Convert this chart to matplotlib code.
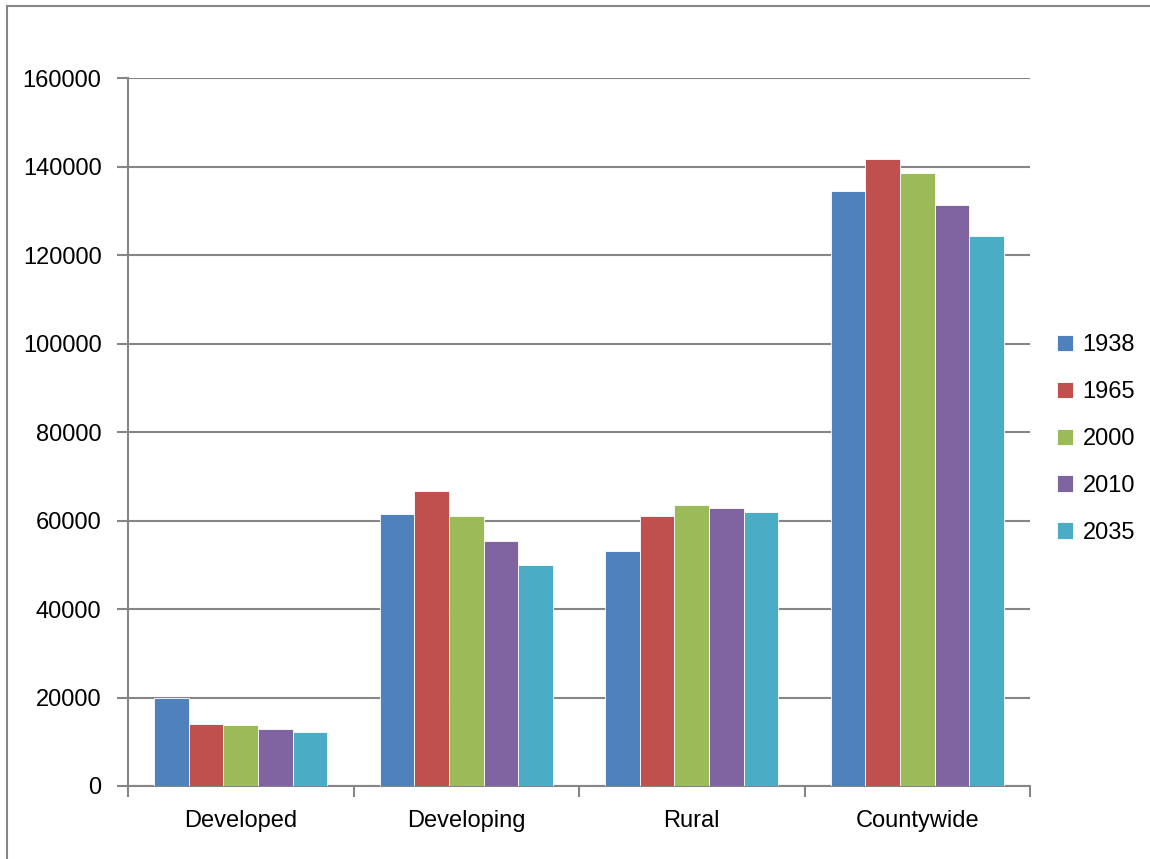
"""Population by area type, grouped bars per year."""

import matplotlib

matplotlib.use("Agg")
import matplotlib.pyplot as plt
import numpy as np
from matplotlib.lines import Line2D

categories = ["Developed", "Developing", "Rural", "Countywide"]
years = ["1938", "1965", "2000", "2010", "2035"]
values = {
    "1938": [20000, 61400, 53100, 134400],
    "1965": [14000, 66700, 61100, 141700],
    "2000": [13700, 61100, 63600, 138500],
    "2010": [12800, 55400, 62800, 131300],
    "2035": [12100, 49900, 61900, 124200],
}
colors = ["#4F81BD", "#C0504D", "#9BBB59", "#8064A2", "#4BACC6"]
y_ticks = [0, 20000, 40000, 60000, 80000, 100000, 120000, 140000, 160000]

plt.rcParams.update({"font.family": "Liberation Sans", "font.size": 17})

fig = plt.figure(figsize=(11.5, 8.59), dpi=100)
ax = fig.add_axes([128 / 1150, 73 / 859, 902 / 1150, 708 / 859])

grid_col = "#868686"
x = np.arange(len(categories))
bar_w = 0.1534
for i, year in enumerate(years):
    offset = (i - 2) * bar_w
    ax.bar(x + offset, values[year], width=bar_w, color=colors[i],
           edgecolor="white", linewidth=0.6, label=year, zorder=3)

ax.set_xlim(-0.5, len(categories) - 0.5)
ax.set_ylim(0, 160000)
ax.set_yticks(y_ticks)
ax.set_yticklabels([str(v) for v in y_ticks])
ax.yaxis.grid(True, color=grid_col, linewidth=1.5, zorder=0)

# category labels centred, ticks on the boundaries
ax.set_xticks(x)
ax.set_xticklabels(categories)
ax.tick_params(axis="x", length=0, pad=17)
ax.set_xticks(np.arange(-0.5, len(categories)), minor=True)
ax.tick_params(axis="x", which="minor", length=8, width=1.5, color=grid_col, direction="out")
ax.tick_params(axis="y", length=8, width=1.5, color=grid_col, direction="out", pad=11)

for side in ["top", "right"]:
    ax.spines[side].set_visible(False)
for side in ["left", "bottom"]:
    ax.spines[side].set_color(grid_col)
    ax.spines[side].set_linewidth(1.5)

ax.legend(loc="center left", bbox_to_anchor=(1.006, 0.49), frameon=False,
          handlelength=0.7, handleheight=0.7, handletextpad=0.4,
          labelspacing=1.05, fontsize=17)

# outer chart border (left and top edges visible)
fig.add_artist(Line2D([7 / 1150, 7 / 1150], [0, 1 - 6 / 859], color=grid_col, linewidth=1.5))
fig.add_artist(Line2D([7 / 1150, 1], [1 - 6 / 859, 1 - 6 / 859], color=grid_col, linewidth=1.5))

fig.savefig("out.png", dpi=100)
